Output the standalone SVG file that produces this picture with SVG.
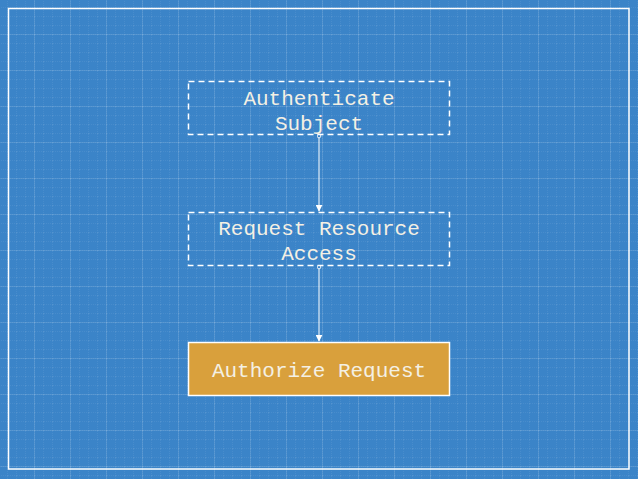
<svg xmlns="http://www.w3.org/2000/svg" width="638" height="479" viewBox="0 0 638 479">
  <defs>
    <pattern id="minor" width="9" height="9" patternUnits="userSpaceOnUse" x="8" y="8">
      <path d="M9 0 V9 M0 9 H9" fill="none" stroke="#ffffff" stroke-opacity="0.13" stroke-width="1" stroke-dasharray="1 1"/>
    </pattern>
    <pattern id="major" width="36" height="36" patternUnits="userSpaceOnUse" x="-1" y="-1">
      <path d="M36 0 V36 M0 36 H36" fill="none" stroke="#ffffff" stroke-opacity="0.22" stroke-width="1"/>
    </pattern>
    <marker id="arrow" viewBox="0 0 10 10" refX="9" refY="5" markerWidth="7" markerHeight="7" markerUnits="userSpaceOnUse" orient="auto">
      <path d="M0 0 L10 5 L0 10 Z" fill="#ffffff"/>
    </marker>
    <marker id="dot" viewBox="0 0 6 6" refX="3" refY="3" markerWidth="5" markerHeight="5" markerUnits="userSpaceOnUse">
      <circle cx="3" cy="3" r="2.2" fill="#3b84c8" stroke="#ffffff" stroke-width="1"/>
    </marker>
  </defs>
  <style>
    .bg { fill: #3b84c8; }
    .node-dashed { fill: none; stroke: #ffffff; stroke-width: 1.5; stroke-dasharray: 6 4; }
    .node-solid { fill: #d9a03c; stroke: #ffffff; stroke-width: 1.5; }
    .label { font-family: "Liberation Mono", "DejaVu Sans Mono", monospace; font-size: 21px; fill: #f4f0e4; text-anchor: middle; }
    .edge { fill: none; stroke: #ffffff; stroke-width: 1; }
  </style>
  <rect class="bg" x="0" y="0" width="638" height="479"/>
  <rect x="0" y="0" width="638" height="479" fill="url(#minor)"/>
  <rect x="0" y="0" width="638" height="479" fill="url(#major)"/>
  <rect x="8.5" y="8.5" width="620.5" height="460.5" fill="none" stroke="#ffffff" stroke-width="1.5"/>

  <g id="edges">
    <path class="edge" d="M319 136 V211" marker-start="url(#dot)" marker-end="url(#arrow)"/>
    <path class="edge" d="M319 267 V341" marker-start="url(#dot)" marker-end="url(#arrow)"/>
  </g>

  <g id="node-authenticate">
    <rect class="node-dashed" x="188.5" y="81.5" width="261" height="53"/>
    <text class="label" x="319" y="105">Authenticate</text>
    <text class="label" x="319" y="130">Subject</text>
  </g>

  <g id="node-request">
    <rect class="node-dashed" x="188.5" y="212.5" width="261" height="53"/>
    <text class="label" x="319" y="235">Request Resource</text>
    <text class="label" x="319" y="260">Access</text>
  </g>

  <g id="node-authorize">
    <rect class="node-solid" x="188.5" y="342.5" width="261" height="53"/>
    <text class="label" x="319" y="377">Authorize Request</text>
  </g>
</svg>
